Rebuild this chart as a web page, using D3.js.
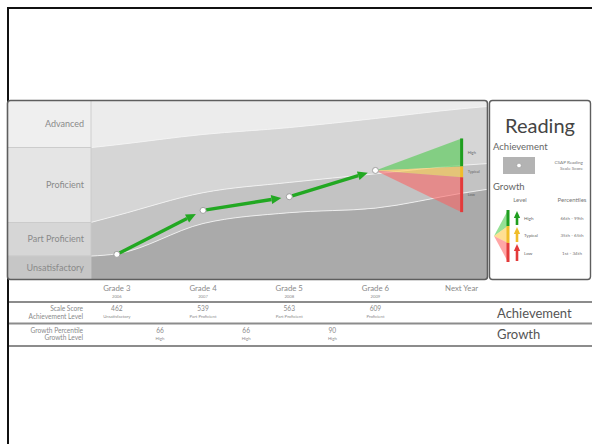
<!DOCTYPE html>
<html>
<head>
<meta charset="utf-8">
<script src="https://cdn.jsdelivr.net/npm/d3@7"></script>
<style>
  html, body { margin: 0; padding: 0; background: #fff; }
  svg { display: block; font-family: Lato, "Open Sans", sans-serif; }
</style>
</head>
<body>
<svg id="chart" width="592" height="444"></svg>
<script>
// ---- data ----
const grades = ["Grade 3", "Grade 4", "Grade 5", "Grade 6", "Next Year"];
const years = ["2006", "2007", "2008", "2009", ""];
const scaleScores = [462, 539, 563, 609];
const achievementLevels = ["Unsatisfactory", "Part Proficient", "Part Proficient", "Proficient"];
const growthPercentiles = [66, 66, 90];
const growthLevels = ["High", "High", "High"];
const levelNames = ["Advanced", "Proficient", "Part Proficient", "Unsatisfactory"];

// cut scores sampled at the plot's left edge, each grade, next year and the right edge
const cutIndex = [-0.3, 0, 1, 2, 3, 4, 4.3];
const cutPartProficient = [459, 463, 516, 535, 543, 569, 576];
const cutProficient = [518, 530, 570, 588, 603, 618, 621];
const cutAdvanced = [649, 654, 672, 684, 700, 717, 721];

// projected scale score ranges for next year by growth level
const growthBands = [
  { level: "High", lo: 616, hi: 665, fan: "#3fc83f", bar: "#1f9e1f" },
  { level: "Typical", lo: 597, hi: 616, fan: "#ffc43a", bar: "#f0bd2a" },
  { level: "Low", lo: 536, hi: 597, fan: "#ff5c5c", bar: "#e33a3a" }
];
const legendPercentiles = ["66th - 99th", "35th - 65th", "1st - 34th"];

// ---- layout ----
const svg = d3.select("#chart");
const panel = { x0: 7.5, x1: 487.5, y0: 100.5, y1: 279.5 };
const labelColX = 91;
const textGray = "#8a8a8a";

const x = d3.scaleLinear().domain([-0.3, 4.3]).range([labelColX, panel.x1]);
const y = d3.scaleLinear().domain([418, 731.5]).range([panel.y1, panel.y0]);

// outer frame lines
svg.append("line").attr("x1", 7).attr("x2", 592).attr("y1", 8).attr("y2", 8)
  .attr("stroke", "#111").attr("stroke-width", 2);
svg.append("line").attr("x1", 8).attr("x2", 8).attr("y1", 7).attr("y2", 444)
  .attr("stroke", "#111").attr("stroke-width", 2);

// ---- main panel ----
const clip = svg.append("defs").append("clipPath").attr("id", "panelClip");
clip.append("rect").attr("x", panel.x0).attr("y", panel.y0)
  .attr("width", panel.x1 - panel.x0).attr("height", panel.y1 - panel.y0).attr("rx", 3);

const g = svg.append("g").attr("clip-path", "url(#panelClip)");

const cutRows = cutIndex.map((c, i) => ({
  i: c, pp: cutPartProficient[i], p: cutProficient[i], a: cutAdvanced[i]
}));

const area = (lo, hi) => d3.area().curve(d3.curveMonotoneX)
  .x(d => x(d.i)).y0(lo).y1(hi);

const bandFills = ["#ececec", "#d6d6d6", "#c3c3c3", "#aaaaaa"];
g.append("path").datum(cutRows).attr("fill", bandFills[0])
  .attr("d", area(d => y(d.a), () => panel.y0 - 2));
g.append("path").datum(cutRows).attr("fill", bandFills[1])
  .attr("d", area(d => y(d.p), d => y(d.a)));
g.append("path").datum(cutRows).attr("fill", bandFills[2])
  .attr("d", area(d => y(d.pp), d => y(d.p)));
g.append("path").datum(cutRows).attr("fill", bandFills[3])
  .attr("d", area(() => panel.y1 + 2, d => y(d.pp)));

const boundary = key => d3.line().curve(d3.curveMonotoneX).x(d => x(d.i)).y(d => y(d[key]));
["a", "p", "pp"].forEach(k => {
  g.append("path").datum(cutRows).attr("fill", "none")
    .attr("stroke", "#f4f4f4").attr("stroke-width", 1)
    .attr("stroke-opacity", 0.85).attr("d", boundary(k));
});

// level label column
const edge = cutRows[0];
const labelBands = [
  { name: levelNames[0], top: panel.y0, bot: y(edge.a), fill: "#efefef" },
  { name: levelNames[1], top: y(edge.a), bot: y(edge.p), fill: "#e5e5e5" },
  { name: levelNames[2], top: y(edge.p), bot: y(edge.pp), fill: "#d6d6d6" },
  { name: levelNames[3], top: y(edge.pp), bot: panel.y1, fill: "#c6c6c6" }
];
g.selectAll("rect.lab").data(labelBands).join("rect").attr("class", "lab")
  .attr("x", panel.x0).attr("width", labelColX - panel.x0)
  .attr("y", d => d.top).attr("height", d => d.bot - d.top)
  .attr("fill", d => d.fill).attr("stroke", "#c9c9c9").attr("stroke-width", 0.8);
g.selectAll("text.lab").data(labelBands).join("text").attr("class", "lab")
  .attr("x", 84).attr("y", d => (d.top + d.bot) / 2 + 3)
  .attr("text-anchor", "end").attr("font-size", 9).attr("fill", textGray)
  .text(d => d.name);

// growth fan toward next year
const last = scaleScores.length - 1;
const fx0 = x(last), fy0 = y(scaleScores[last]), fx1 = x(4);
g.selectAll("path.fan").data(growthBands).join("path").attr("class", "fan")
  .attr("fill", d => d.fan).attr("fill-opacity", 0.55)
  .attr("d", d => `M${fx0},${fy0}L${fx1},${y(d.hi)}L${fx1},${y(d.lo)}Z`);
g.selectAll("rect.fanbar").data(growthBands).join("rect").attr("class", "fanbar")
  .attr("x", fx1 - 1.5).attr("width", 3)
  .attr("y", d => y(d.hi)).attr("height", d => y(d.lo) - y(d.hi))
  .attr("fill", d => d.bar);
g.selectAll("text.fanlab").data(growthBands).join("text").attr("class", "fanlab")
  .attr("x", fx1 + 6).attr("y", d => (y(d.hi) + y(d.lo)) / 2 + 1.5)
  .attr("font-size", 4).attr("fill", "#666").text(d => d.level);

// growth arrows between consecutive years
function arrow(sel, x1, y1, x2, y2, w, head, color) {
  const ang = Math.atan2(y2 - y1, x2 - x1);
  const bx = x2 - head * Math.cos(ang), by = y2 - head * Math.sin(ang);
  sel.append("line").attr("x1", x1).attr("y1", y1).attr("x2", bx).attr("y2", by)
    .attr("stroke", color).attr("stroke-width", w);
  const px = Math.sin(ang) * head * 0.45, py = -Math.cos(ang) * head * 0.45;
  sel.append("path").attr("fill", color)
    .attr("d", `M${x2},${y2}L${bx + px},${by + py}L${bx - px},${by - py}Z`);
}
for (let i = 0; i < last; i++) {
  const x1 = x(i), y1 = y(scaleScores[i]), x2 = x(i + 1), y2 = y(scaleScores[i + 1]);
  const len = Math.hypot(x2 - x1, y2 - y1);
  const ux = (x2 - x1) / len, uy = (y2 - y1) / len;
  arrow(g, x1 + ux * 3, y1 + uy * 3, x2 - ux * 8, y2 - uy * 8, 3.4, 10, "#22a822");
}

// score points
g.selectAll("circle.pt").data(scaleScores).join("circle").attr("class", "pt")
  .attr("cx", (d, i) => x(i)).attr("cy", d => y(d)).attr("r", 3)
  .attr("fill", "#fff").attr("stroke", "#999").attr("stroke-width", 0.9);

// panel border
svg.append("rect").attr("x", panel.x0).attr("y", panel.y0)
  .attr("width", panel.x1 - panel.x0).attr("height", panel.y1 - panel.y0).attr("rx", 3)
  .attr("fill", "none").attr("stroke", "#5e5e5e").attr("stroke-width", 1.6);

// ---- legend panel ----
const L = svg.append("g");
L.append("rect").attr("x", 489.5).attr("y", 100.5).attr("width", 101).attr("height", 179).attr("rx", 3)
  .attr("fill", "#fff").attr("stroke", "#5e5e5e").attr("stroke-width", 1.4);
L.append("text").attr("x", 540).attr("y", 133).attr("text-anchor", "middle")
  .attr("font-size", 20).attr("fill", "#444").text("Reading");
L.append("text").attr("x", 493).attr("y", 150).attr("font-size", 9.5).attr("fill", "#666").text("Achievement");
L.append("rect").attr("x", 503).attr("y", 157).attr("width", 32).attr("height", 17).attr("fill", "#b3b3b3");
L.append("circle").attr("cx", 519).attr("cy", 165.5).attr("r", 2.3).attr("fill", "#fff").attr("stroke", "#999").attr("stroke-width", 0.6);
L.append("text").attr("x", 583).attr("y", 164).attr("text-anchor", "end").attr("font-size", 4.6).attr("fill", "#777").text("CSAP Reading");
L.append("text").attr("x", 583).attr("y", 170).attr("text-anchor", "end").attr("font-size", 4.6).attr("fill", "#777").text("Scale Score");
L.append("text").attr("x", 493).attr("y", 190).attr("font-size", 9.5).attr("fill", "#666").text("Growth");
L.append("text").attr("x", 520).attr("y", 202).attr("text-anchor", "middle").attr("font-size", 6).attr("fill", "#777").text("Level");
L.append("text").attr("x", 572).attr("y", 202).attr("text-anchor", "middle").attr("font-size", 6).attr("fill", "#777").text("Percentiles");

const legBarX = 508, legApex = [494, 236];
const legRanges = [[210, 226], [226, 243], [243, 262]];
growthBands.forEach((b, i) => {
  const [t, bt] = legRanges[i];
  L.append("path").attr("fill", b.fan).attr("fill-opacity", 0.55)
    .attr("d", `M${legApex[0]},${legApex[1]}L${legBarX},${t}L${legBarX},${bt}Z`);
  L.append("rect").attr("x", legBarX - 1.5).attr("y", t).attr("width", 3).attr("height", bt - t)
    .attr("fill", b.bar);
  arrow(L, 517, bt - 1, 517, t + 1, 2.6, 7, b.bar);
  L.append("text").attr("x", 524).attr("y", (t + bt) / 2 + 2).attr("font-size", 4.6)
    .attr("fill", "#666").text(b.level);
  L.append("text").attr("x", 572).attr("y", (t + bt) / 2 + 2).attr("text-anchor", "middle")
    .attr("font-size", 4.6).attr("fill", "#777").text(legendPercentiles[i]);
});

// ---- table below the chart ----
const T = svg.append("g");
grades.forEach((gr, i) => {
  T.append("text").attr("x", x(i)).attr("y", 291).attr("text-anchor", "middle")
    .attr("font-size", 7.8).attr("fill", textGray).text(gr);
  if (years[i]) T.append("text").attr("x", x(i)).attr("y", 297.5).attr("text-anchor", "middle")
    .attr("font-size", 4.2).attr("fill", textGray).text(years[i]);
});

[302, 323.5, 346].forEach(ly => {
  T.append("line").attr("x1", 9).attr("x2", 592).attr("y1", ly).attr("y2", ly)
    .attr("stroke", "#8c8c8c").attr("stroke-width", 1.8);
});

const rowLabels = [["Scale Score", 311], ["Achievement Level", 318.5], ["Growth Percentile", 332.5], ["Growth Level", 340]];
rowLabels.forEach(([t, ly]) => {
  T.append("text").attr("x", 83).attr("y", ly).attr("text-anchor", "end")
    .attr("font-size", 6.6).attr("fill", textGray).text(t);
});

scaleScores.forEach((s, i) => {
  T.append("text").attr("x", x(i)).attr("y", 311).attr("text-anchor", "middle")
    .attr("font-size", 6.6).attr("fill", textGray).text(s);
  T.append("text").attr("x", x(i)).attr("y", 318).attr("text-anchor", "middle")
    .attr("font-size", 4.3).attr("fill", textGray).text(achievementLevels[i]);
});
growthPercentiles.forEach((p, i) => {
  const cx = x(i + 0.5);
  T.append("text").attr("x", cx).attr("y", 332.5).attr("text-anchor", "middle")
    .attr("font-size", 6.6).attr("fill", textGray).text(p);
  T.append("text").attr("x", cx).attr("y", 339.5).attr("text-anchor", "middle")
    .attr("font-size", 4.3).attr("fill", textGray).text(growthLevels[i]);
});

T.append("text").attr("x", 497).attr("y", 318).attr("font-size", 13).attr("fill", "#555").text("Achievement");
T.append("text").attr("x", 497).attr("y", 339).attr("font-size", 13).attr("fill", "#555").text("Growth");
</script>
</body>
</html>
